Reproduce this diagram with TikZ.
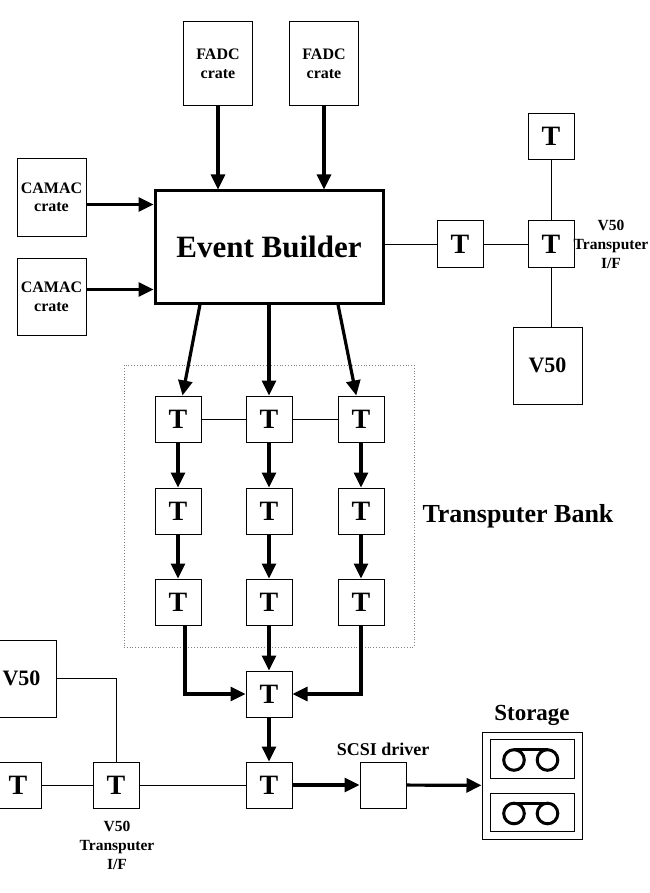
\documentclass[tikz,border=0pt]{standalone}
\usepackage{fontspec}
\setmainfont{Liberation Serif}
\usetikzlibrary{positioning, arrows.meta}

\begin{document}
\begin{tikzpicture}[x=1pt, y=-1pt,
    tbox/.style={rectangle, draw, line width=1pt, minimum width=46pt,
    minimum height=46pt, inner sep=0pt, font=\fontsize{28}{28}\selectfont\bfseries},
    crate/.style={rectangle, draw, line width=1pt, minimum width=69pt,
    minimum height=84pt, inner sep=0pt, align=center,
    font=\fontsize{16}{18.5}\selectfont\bfseries},
    arrow/.style={-{Triangle[length=15pt,width=14pt]}, line width=3.2pt},
    link/.style={line width=1pt},
    note/.style={align=center, font=\fontsize{15.5}{19}\selectfont\bfseries}
]
\useasboundingbox (0,0) rectangle (649,893);

% sources and event builder
\node[rectangle, draw, line width=3pt, minimum width=228pt, minimum height=112pt,
    font=\fontsize{31}{31}\selectfont\bfseries] (eb) at (269,247) {Event Builder};
\node[crate] (fadc1) at (218,64) {FADC\\crate};
\node[crate] (fadc2) at (324,64) {FADC\\crate};
\node[crate, minimum height=77pt] (camac1) at (51.5,197.5) {CAMAC\\crate};
\node[crate, minimum height=77pt] (camac2) at (51.5,297) {CAMAC\\crate};

\coordinate (ebin1) at ([yshift=-15pt]eb.north west);
\coordinate (ebin2) at ([yshift=15pt]eb.south west);

\draw[arrow] (fadc1.south) -- (fadc1.south |- eb.north);
\draw[arrow] (fadc2.south) -- (fadc2.south |- eb.north);
\draw[arrow] (camac1.east |- ebin1) -- (ebin1);
\draw[arrow] (camac2.east |- ebin2) -- (ebin2);

% V50 interface, top right
\node[tbox] (tl) at (460,244) {T};
\node[tbox] (tif) at (551,244) {T};
\node[tbox] (ta) at (551,136.5) {T};
\node[crate, minimum height=77pt, font=\fontsize{22}{22}\selectfont\bfseries]
    (v50r) at (547.5,365.5) {V50};
\node[note] at (611,244) {V50\\Transputer\\I/F};

\draw[link] (eb.east |- tl) -- (tl);
\draw[link] (tl) -- (tif);
\draw[link] (ta) -- (tif);
\draw[link] (tif) -- (tif |- v50r.north);

% transputer bank
\node[rectangle, draw, dotted, gray, line width=0.8pt, minimum width=290pt,
    minimum height=282pt] (bank) at (269,506) {};
\node[font=\fontsize{26}{26}\selectfont\bfseries] at (518,516) {Transputer Bank};

\foreach \r/\y in {1/419, 2/511, 3/602}
  \foreach \c/\x in {1/178, 2/269, 3/361}
    \node[tbox] (b\r\c) at (\x,\y) {T};

\foreach \c/\dx in {1/-69, 2/0, 3/69}
  \draw[arrow] ([xshift=\dx pt]eb.south) -- (b1\c);

\draw[link] (b11) -- (b12);
\draw[link] (b12) -- (b13);

\foreach \c in {1,2,3} {
  \draw[arrow] (b1\c) -- (b2\c);
  \draw[arrow] (b2\c) -- (b3\c);
}

% merging and output
\node[tbox] (merge) at (269,694) {T};
\node[tbox] (tout) at (269,785) {T};
\node[rectangle, draw, line width=1pt, minimum width=46pt, minimum height=46pt]
    (scsi) at (383,785) {};
\node[font=\fontsize{18}{18}\selectfont\bfseries, above=2pt of scsi] {SCSI driver};

\draw[arrow] ([xshift=7pt]b31.south) |- (merge.west);
\draw[arrow] (b32) -- (merge);
\draw[arrow] (b33.south) |- (merge.east);
\draw[arrow] (merge) -- (tout);
\draw[arrow] (tout) -- (scsi);

% storage
\node[rectangle, draw, line width=1pt, minimum width=100pt, minimum height=107pt]
    (storage) at (532,785.5) {};
\node[font=\fontsize{23}{23}\selectfont\bfseries, above=2pt of storage] {Storage};
\node[rectangle, draw, line width=1pt, minimum width=84pt, minimum height=39pt]
    (tape1) at (532,758.5) {};
\node[rectangle, draw, line width=1pt, minimum width=84pt, minimum height=38pt]
    (tape2) at (532,812) {};
\foreach \tp in {tape1, tape2} {
  \begin{scope}[shift={(\tp.center)}, line width=3pt]
    \draw (-18,1.5) circle[radius=10.3pt] (15.5,1.5) circle[radius=10.3pt];
    \draw (-18,-8.8) -- (15.5,-8.8);
  \end{scope}
}
\draw[arrow] (scsi) -- (storage);

% V50 interface, bottom left
\node[tbox] (tb2) at (116,785) {T};
\node[tbox] (tb1) at (18,785) {T};
\node[crate, minimum height=77pt, font=\fontsize{22}{22}\selectfont\bfseries]
    (v50l) at (21.5,678.5) {V50};
\node[note] at (117,845) {V50\\Transputer\\I/F};

\draw[link] (tout) -- (tb2);
\draw[link] (tb2) -- (tb1);
\draw[link] (v50l.east) -| (tb2.north);

\end{tikzpicture}
\end{document}
